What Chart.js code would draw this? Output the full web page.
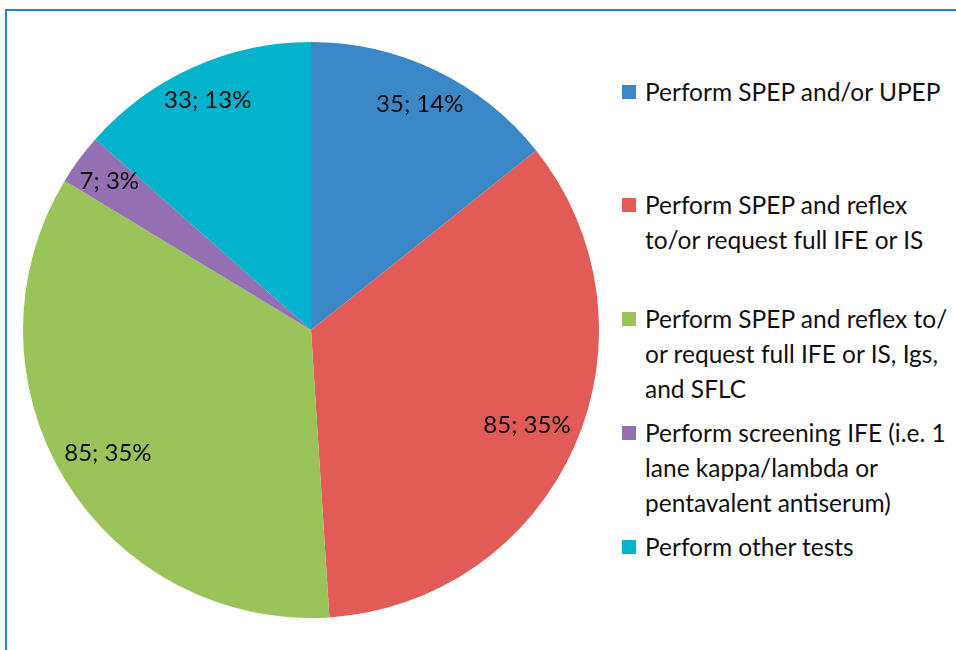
<!DOCTYPE html>
<html>
<head>
<meta charset="utf-8">
<script src="https://cdn.jsdelivr.net/npm/chart.js@4"></script>
<style>
  html, body { margin: 0; padding: 0; background: #fff; }
  body { width: 956px; height: 650px; position: relative; overflow: hidden; font-family: Lato, 'Noto Sans', sans-serif; }
  .frame { position: absolute; left: 5px; top: 9px; right: 0; bottom: 0; border-top: 2px solid #1f86d6; border-left: 2px solid #1f86d6; }
  .pie-wrap { position: absolute; left: 23px; top: 42px; width: 576px; height: 576px; }
  .legend { position: absolute; left: 622px; top: 0; width: 334px; }
  .legend-item { position: absolute; left: 0; display: flex; align-items: flex-start; }
  .legend-box { width: 14px; height: 14px; margin-top: 11px; margin-right: 9px; flex: none; }
  .legend-text { font-size: 24.5px; line-height: 35px; color: #111; white-space: pre-line; }
</style>
</head>
<body>
<div class="frame"></div>
<div class="pie-wrap"><canvas id="pie"></canvas></div>
<div class="legend" id="legend"></div>
<script>
const categories = [
  'Perform SPEP and/or UPEP',
  'Perform SPEP and reflex\nto/or request full IFE or IS',
  'Perform SPEP and reflex to/\nor request full IFE or IS, Igs,\nand SFLC',
  'Perform screening IFE (i.e. 1\nlane kappa/lambda or\npentavalent antiserum)',
  'Perform other tests'
]
const counts = [35, 85, 85, 7, 33]
const colors = ['#3b88c8', '#e15b57', '#9ac35a', '#946fb2', '#03b2cb']

const total = counts.reduce((a, b) => a + b, 0)

// labels sit just inside the rim, like Excel's "inside end"
const insideEndLabels = {
  id: 'insideEndLabels',
  afterDatasetsDraw(chart) {
    const ctx = chart.ctx
    const meta = chart.getDatasetMeta(0)
    ctx.save()
    ctx.font = '24px Lato, "Noto Sans", sans-serif'
    ctx.fillStyle = '#0a0a0a'
    ctx.textAlign = 'center'
    ctx.textBaseline = 'middle'
    meta.data.forEach((arc, i) => {
      const v = counts[i]
      const text = `${v}; ${Math.round(v / total * 100)}%`
      const { x, y, startAngle, endAngle, outerRadius } = arc.getProps(['x', 'y', 'startAngle', 'endAngle', 'outerRadius'], true)
      const mid = (startAngle + endAngle) / 2
      const ux = Math.cos(mid)
      const uy = Math.sin(mid)
      const cx = Math.sign(ux) * ctx.measureText(text).width / 2
      const cy = Math.sign(uy) * 9
      const dot = ux * cx + uy * cy
      const target = outerRadius * 0.972
      const d = -dot + Math.sqrt(dot * dot - (cx * cx + cy * cy) + target * target)
      ctx.fillText(text, x + ux * d, y + uy * d)
    })
    ctx.restore()
  }
}

new Chart(document.getElementById('pie'), {
  type: 'pie',
  data: {
    labels: categories,
    datasets: [{
      data: counts,
      backgroundColor: colors,
      borderWidth: 0
    }]
  },
  options: {
    responsive: true,
    maintainAspectRatio: false,
    animation: false,
    layout: { padding: 0 },
    plugins: {
      legend: { display: false },
      tooltip: { enabled: false }
    }
  },
  plugins: [insideEndLabels]
})

const legend = document.getElementById('legend')
categories.forEach((label, i) => {
  const item = document.createElement('div')
  item.className = 'legend-item'
  item.style.top = (73.5 + i * 113.75) + 'px'
  item.innerHTML = `<span class="legend-box" style="background:${colors[i]}"></span><span class="legend-text"></span>`
  item.querySelector('.legend-text').textContent = label
  legend.appendChild(item)
})
</script>
</body>
</html>
